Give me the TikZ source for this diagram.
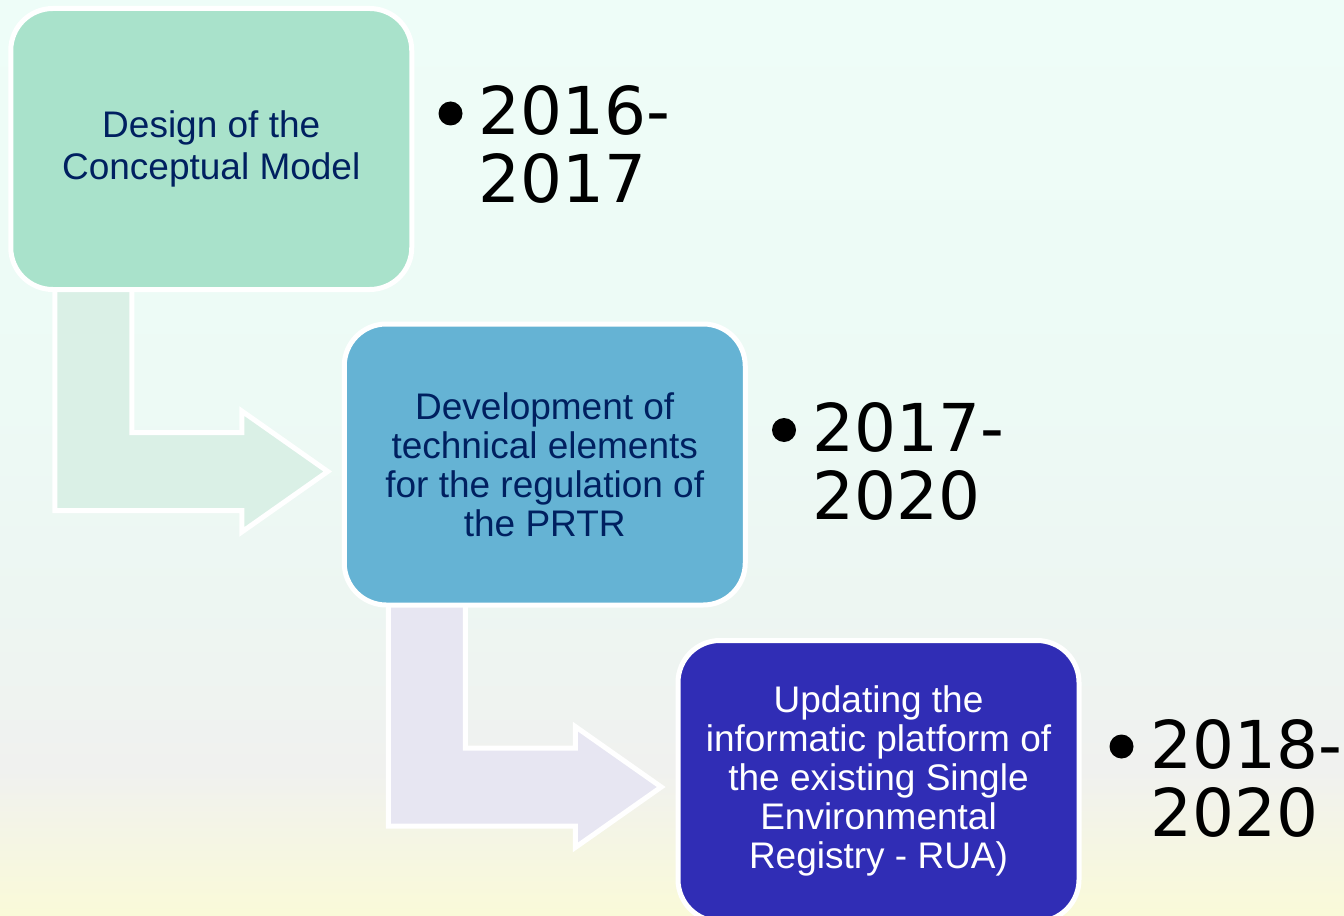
\documentclass[tikz,border=0pt]{standalone}
\usepackage{fontspec}
\setmainfont{Liberation Sans}
\newfontfamily\yearfont{DejaVu Sans}
\usetikzlibrary{calc,backgrounds}
\definecolor{bgA}{HTML}{EEFDF8}
\definecolor{bgB}{HTML}{EDFAF5}
\definecolor{bgC}{HTML}{EDF6F2}
\definecolor{bgD}{HTML}{F0F1EF}
\definecolor{bgE}{HTML}{FAFAD8}
\definecolor{boxA}{HTML}{A9E2CB}
\definecolor{boxB}{HTML}{65B3D4}
\definecolor{boxC}{HTML}{302DB5}
\definecolor{arrA}{HTML}{DAF0E6}
\definecolor{arrB}{HTML}{E7E6F2}
\definecolor{navy}{HTML}{002060}
\begin{document}
\begin{tikzpicture}[x=0.75pt,y=-0.75pt,
  stagebox/.style={rectangle, rounded corners=31.5pt, draw=white, line width=3.75pt,
    minimum width=300.75pt, minimum height=210.75pt, inner sep=0pt, align=center},
  boxfontA/.style={font=\fontsize{27.75pt}{31.5pt}\selectfont},
  boxfontB/.style={font=\fontsize{27.75pt}{29.2pt}\selectfont},
  yearlabel/.style={anchor=base west, inner sep=0pt, align=left,
    font=\yearfont\fontsize{49.5pt}{51pt}\selectfont, text=black},
  bulletdot/.style={circle, fill=black, minimum size=18pt, inner sep=0pt},
  bendarrow/.style={draw=white, line width=3.75pt, line join=miter},
  pics/bentarrow/.style={code={
    \filldraw[bendarrow, fill=#1] (46.5,-8) -- (46.5,218.5) -- (233.5,218.5) -- (233.5,240)
      -- (319.5,179.5) -- (233.5,119) -- (233.5,140.5) -- (123.5,140.5) -- (123.5,-8) -- cycle;
  }}
]
\useasboundingbox (0,0) rectangle (1344,916);
\clip (0,0) rectangle (1344,916);

% stage boxes
\node[stagebox, boxfontA, fill=boxA, text=navy] (b1) at (211.25,149)
  {Design of the\\Conceptual Model};
\node[stagebox, boxfontB, fill=boxB, text=navy] (b2) at (544.75,464.5)
  {Development of\\technical elements\\for the regulation of\\the PRTR};
\node[stagebox, boxfontB, fill=boxC, text=white] (b3) at (878.5,781)
  {Updating the\\informatic platform of\\the existing Single\\Environmental\\Registry - RUA)};

% year labels (anchor is the baseline of the second line)
\node[yearlabel] (y1) at (478.5,203) {2016-\\2017};
\node[yearlabel] (y2) at (812,519.5) {2017-\\2020};
\node[yearlabel] (y3) at (1150.5,836) {2018-\\2020};
\node[bulletdot] (d1) at ($(y1.base west)+(-28,-89.5)$) {};
\node[bulletdot] (d2) at ($(y2.base west)+(-28,-89.5)$) {};
\node[bulletdot] (d3) at ($(y3.base west)+(-29,-89.5)$) {};

\begin{pgfonlayer}{background}
  % background gradient
  \shade[top color=bgA, bottom color=bgB] (0,-1) rectangle (1344,401);
  \shade[top color=bgB, bottom color=bgC] (0,400) rectangle (1344,601);
  \shade[top color=bgC, bottom color=bgD] (0,600) rectangle (1344,771);
  \shade[top color=bgD, bottom color=bgE] (0,770) rectangle (1344,917);
  % bent arrows between the stages
  \pic at (b1.south west) {bentarrow=arrA};
  \pic at (b2.south west) {bentarrow=arrB};
\end{pgfonlayer}
\end{tikzpicture}
\end{document}
